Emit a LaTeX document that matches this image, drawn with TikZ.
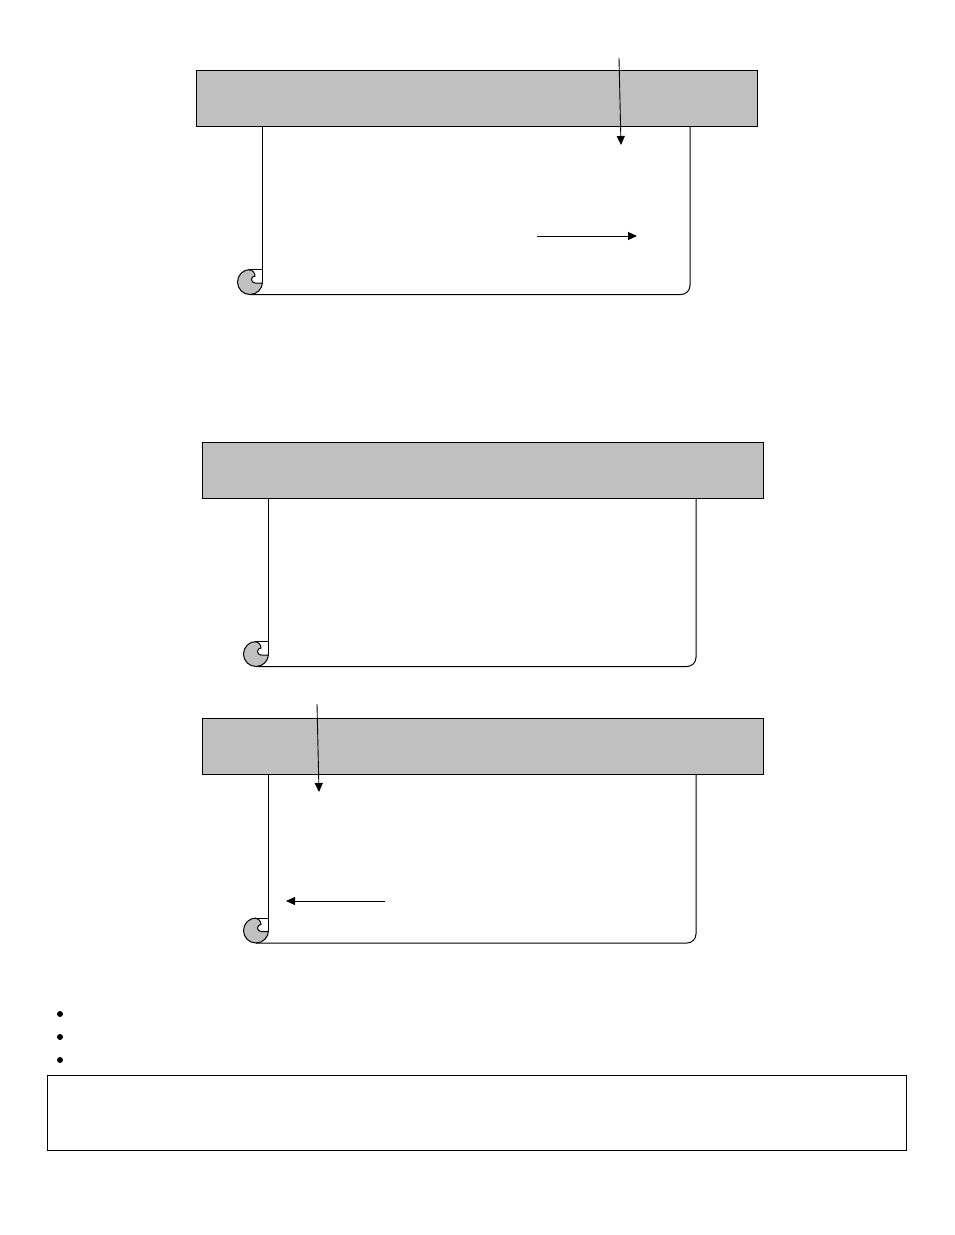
\documentclass[tikz,border=0pt]{standalone}
\usetikzlibrary{arrows.meta}
\definecolor{scrollgray}{RGB}{192,192,192}

\tikzset{
  header/.style={draw, line width=0.9pt, fill=scrollgray, anchor=north west,
    minimum width=561pt, minimum height=56pt, inner sep=0pt, outer sep=0pt},
  edge/.style={line width=1pt},
  pointer/.style={line width=0.9pt, -{Triangle[length=9pt,width=8pt]}},
  bullet/.style={circle, fill, minimum size=6pt, inner sep=0pt},
  notebox/.style={draw, line width=1pt, anchor=north west, minimum width=859pt,
    minimum height=75pt, inner sep=0pt, outer sep=0pt},
}

% scroll: name, left and top of its header
\newcommand{\Scroll}[3]{%
  \begin{scope}[shift={(#2,-#3)}]
    \coordinate (#1-curl) at (54,-212);
    \fill[scrollgray] (#1-curl) circle (12.5);
    \fill[white] (54,-199.5) -- (66.5,-199.5) -- (66.5,-213) -- (59,-213)
      arc[start angle=-90, end angle=-270, radius=3.5]
      arc[start angle=0, end angle=90, radius=6.25] -- cycle;
    \draw[edge] (66.5,-212) arc[start angle=0, end angle=-270, radius=12.5];
    \draw[edge] (54,-199.5) -- (66.5,-199.5);
    \draw[edge] (66.5,-213) -- (59,-213)
      arc[start angle=-90, end angle=-270, radius=3.5]
      arc[start angle=0, end angle=90, radius=6.25];
    \draw[edge] (66.5,-56) -- (66.5,-213);
    \draw[edge, rounded corners=9pt] (54,-224.5) -- (494,-224.5) -- (494,-56);
    \node[header] (#1-head) at (0,0) {};
  \end{scope}}

\begin{document}
\begin{tikzpicture}[x=1pt, y=1pt]
  \useasboundingbox (0,0) rectangle (954,-1235);

  \Scroll{first}{196}{70}
  \Scroll{second}{202}{442}
  \Scroll{third}{202}{718.5}

  % arrows on the first scroll
  \coordinate (drop1-from) at (619,-58);
  \coordinate (drop1-to) at (621,-145);
  \coordinate (push1-from) at (537,-236);
  \coordinate (push1-to) at (637,-236);
  \draw[pointer] (drop1-from) -- (drop1-to);
  \draw[pointer] (push1-from) -- (push1-to);

  % arrows on the third scroll
  \coordinate (drop3-from) at (317,-704);
  \coordinate (drop3-to) at (319,-792);
  \coordinate (push3-from) at (385,-901);
  \coordinate (push3-to) at (286,-901);
  \draw[pointer] (drop3-from) -- (drop3-to);
  \draw[pointer] (push3-from) -- (push3-to);

  \foreach \i/\y in {1/1014, 2/1037, 3/1060}
    \node[bullet] (dot-\i) at (60,-\y) {};

  \node[notebox] (note) at (47,-1075) {};
\end{tikzpicture}
\end{document}
